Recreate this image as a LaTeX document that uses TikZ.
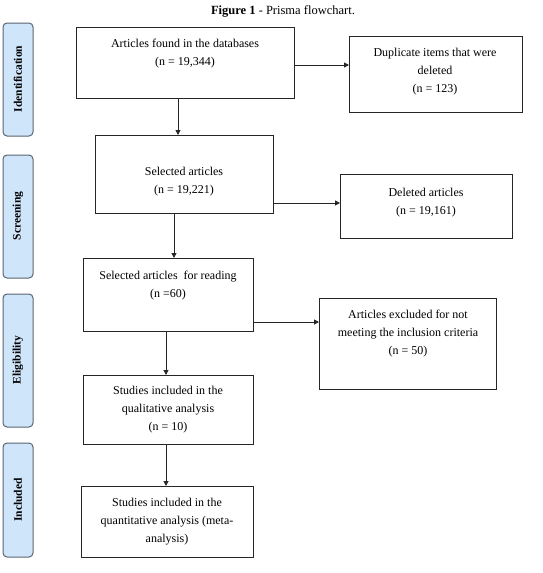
\documentclass[tikz,border=0pt]{standalone}
\usepackage{fontspec}
\setmainfont{Liberation Serif}
\usetikzlibrary{arrows.meta}
\definecolor{phasefill}{HTML}{CFE6FA}
\definecolor{phaseedge}{HTML}{5A6470}
\begin{document}
\begin{tikzpicture}[x=1pt,y=-1pt,
  stagebox/.style={draw=black!85,line width=0.9pt,fill=white},
  btxt/.style={font=\fontsize{12}{18}\selectfont,align=center,inner sep=0pt},
  phase/.style={draw=phaseedge,line width=1pt,fill=phasefill,rounded corners=4pt},
  ptxt/.style={font=\fontsize{11.5}{13}\selectfont\bfseries,rotate=90,inner sep=0pt},
  flow/.style={-{Triangle[length=5pt,width=5pt]},line width=1pt,black!85}]
\useasboundingbox (0,0) rectangle (542,573);
% title
\node[font=\fontsize{12.5}{14}\selectfont] (title) at (283,11) {\textbf{Figure 1} - Prisma flowchart.};
% phase labels
\draw[phase] (3,23) rectangle (33,136);
\node[ptxt] (pid) at (18,79) {Identification};
\draw[phase] (3,155) rectangle (33,278);
\node[ptxt] (psc) at (18,216) {Screening};
\draw[phase] (3,294) rectangle (33,427);
\node[ptxt] (pel) at (18,360) {Eligibility};
\draw[phase] (3,443) rectangle (33,557);
\node[ptxt] (pin) at (18,500) {Included};
% boxes
\draw[stagebox] (76,27) rectangle (294,98);
\node[btxt] (a1) at (185,54) {Articles found in the databases\\(n = 19,344)};
\coordinate (a1s) at (294,65);
\coordinate (a1b) at (178,98);
\draw[stagebox] (349,36) rectangle (522,112);
\node[btxt] (dup) at (435,72) {Duplicate items that were\\deleted\\(n = 123)};
\coordinate (dupw) at (349,65);
\draw[stagebox] (95,135) rectangle (273,213);
\node[btxt] (sel) at (184,182) {Selected articles\\(n = 19,221)};
\coordinate (selt) at (178,135);
\coordinate (sele) at (273,203);
\coordinate (selb) at (174,213);
\draw[stagebox] (340,174) rectangle (512,238);
\node[btxt] (del) at (426,203) {Deleted articles\\(n = 19,161)};
\coordinate (delw) at (340,203);
\draw[stagebox] (83,258) rectangle (253,331);
\node[btxt] (rd) at (168,286) {Selected articles \ for reading\\(n =60)};
\coordinate (rdt) at (174,258);
\coordinate (rde) at (253,322);
\coordinate (rdb) at (166,331);
\draw[stagebox] (319,298) rectangle (496,389);
\node[btxt] (exc) at (408,334) {Articles excluded for not\\meeting the inclusion criteria\\(n = 50)};
\coordinate (excw) at (319,322);
\draw[stagebox] (83,375) rectangle (253,444);
\node[btxt] (qual) at (168,410) {Studies included in the\\qualitative analysis\\(n = 10)};
\coordinate (qualt) at (166,375);
\coordinate (qualb) at (166,444);
\draw[stagebox] (81,486) rectangle (253,557);
\node[btxt] (quant) at (167,522) {Studies included in the\\quantitative analysis (meta-\\analysis)};
\coordinate (quantt) at (166,486);
% connectors
\draw[flow] (a1s) -- (dupw);
\draw[flow] (a1b) -- (selt);
\draw[flow] (sele) -- (delw);
\draw[flow] (selb) -- (rdt);
\draw[flow] (rde) -- (excw);
\draw[flow] (rdb) -- (qualt);
\draw[flow] (qualb) -- (quantt);
\end{tikzpicture}
\end{document}
